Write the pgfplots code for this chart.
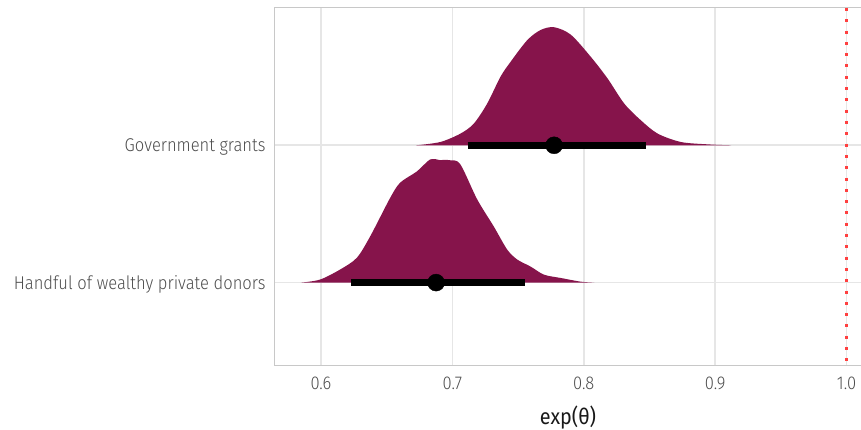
\documentclass[border=0pt]{standalone}
\usepackage{fontspec}
\setmainfont{Fira Sans Light}[FakeStretch=0.895]
\newfontfamily\labelfont{Fira Sans}[FakeStretch=0.9]
\usepackage{pgfplots}
\pgfplotsset{compat=1.18}
\definecolor{slab}{RGB}{134,20,75}
\definecolor{gridc}{HTML}{E6E6E6}
\definecolor{borderc}{HTML}{C8C8C8}
\definecolor{tickc}{HTML}{4D4D4D}
\definecolor{refred}{RGB}{255,64,64}
\begin{document}
\begin{tikzpicture}
\begin{axis}[
  scale only axis,
  width=586bp, height=357bp,
  xmin=0.565, xmax=1.011,
  ymin=0.4, ymax=3.0,
  xtick={0.6,0.7,0.8,0.9,1.0},
  xticklabels={0.6,0.7,0.8,0.9,1.0},
  ytick={1,2},
  yticklabels={Handful of wealthy private donors,Government grants},
  major tick length=0pt,
  grid=major,
  grid style={color=gridc, line width=1.7bp},
  axis line style={color=borderc, line width=1bp},
  tick label style={color=tickc, font=\fontsize{18.5bp}{20bp}\selectfont},
  xticklabel style={yshift=-8bp},
  yticklabel style={xshift=-6bp, yshift=-2bp},
  xlabel={exp(θ)},
  xlabel style={font=\labelfont\fontsize{22bp}{24bp}\selectfont, color=black!90, yshift=-10bp},
  clip=true,
]
% Government grants slab
\addplot[draw=none, fill=slab, smooth, tension=0.5] coordinates {
(0.6725,2.000) (0.6908,2.024) (0.7061,2.085) (0.7163,2.158) (0.7265,2.304)
(0.7366,2.499) (0.7443,2.608) (0.7570,2.766) (0.7672,2.840) (0.7774,2.860)
(0.7901,2.806) (0.8053,2.645) (0.8181,2.487) (0.8308,2.304) (0.8435,2.182)
(0.8563,2.085) (0.8740,2.024) (0.8944,2.007) (0.9122,2.000)
};
\addplot[black, line width=6.5bp] coordinates {(0.7117,2) (0.8476,2)};
\addplot[only marks, mark=*, mark size=8.5bp, black] coordinates {(0.7774,2)};
% Handful of wealthy private donors slab
\addplot[draw=none, fill=slab, smooth, tension=0.5] coordinates {
(0.5847,1.000) (0.5992,1.022) (0.6145,1.095) (0.6272,1.180) (0.6374,1.336)
(0.6527,1.618) (0.6603,1.728) (0.6730,1.810) (0.6832,1.898) (0.6900,1.893)
(0.6985,1.891) (0.7061,1.861) (0.7189,1.606) (0.7315,1.409) (0.7417,1.241)
(0.7494,1.168) (0.7595,1.117) (0.7697,1.058) (0.7824,1.034) (0.7977,1.007)
(0.8080,1.000)
};
\addplot[black, line width=6.5bp] coordinates {(0.6229,1) (0.7552,1)};
\addplot[only marks, mark=*, mark size=8.5bp, black] coordinates {(0.6876,1)};
% reference line
\addplot[refred, line width=3bp, line cap=butt, dash pattern=on 3bp off 8.3bp] coordinates {(1,3.0) (1,0.4)};
\end{axis}
\pgfresetboundingbox
\useasboundingbox ([shift={(-275bp,-65bp)}]current axis.south west) rectangle ([shift={(0bp,8bp)}]current axis.north east);
\end{tikzpicture}
\end{document}
